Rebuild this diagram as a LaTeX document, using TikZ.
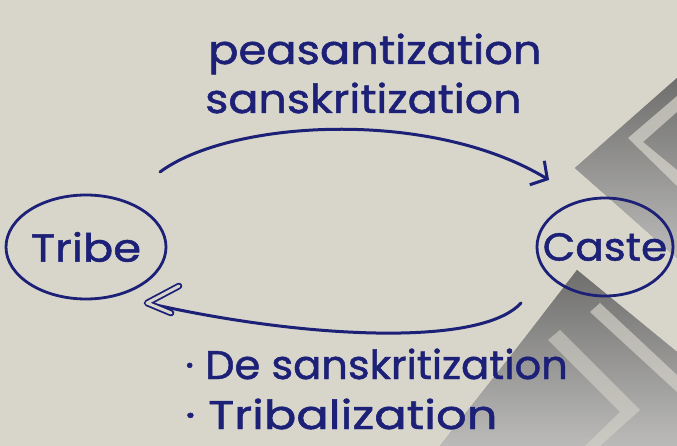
\documentclass[tikz,border=0pt]{standalone}
\usepackage{fontspec}
\setmainfont{Poppins}[FakeBold=1.2]
\usetikzlibrary{shapes.geometric,arrows.meta}
\definecolor{paper}{RGB}{216,214,203}
\definecolor{shade}{RGB}{165,163,156}
\definecolor{ink}{RGB}{28,32,118}
\tikzset{
  bubble/.style={ellipse, draw=ink, line width=2.8pt, inner sep=0pt, text=ink, font=\fontsize{39}{41}\selectfont},
  label/.style={text=ink, font=\fontsize{40}{44}\selectfont, inner sep=0pt, anchor=base west},
  link/.style={draw=ink, line width=3pt, line cap=round, line join=round}
}
\begin{document}
\begin{tikzpicture}[x=1pt,y=-1pt]
\fill[paper] (0,0) rectangle (677,446);
\useasboundingbox (0,0) rectangle (677,446);
% paper shadow bands
\fill[shade,opacity=0.6] (575,168) -- (677,78) -- (677,258) -- cycle;
\fill[paper,opacity=0.7] (628,138) -- (677,96) -- (677,112) -- (643,142) -- (677,170) -- (677,186) -- cycle;
\fill[shade,opacity=0.6] (577,270) -- (677,352) -- (677,446) -- (440,446) -- (527,335) -- cycle;
\fill[paper,opacity=0.65] (590,312) -- (600,303) -- (677,375) -- (677,392) -- cycle;
\fill[paper,opacity=0.55] (548,340) -- (560,330) -- (640,410) -- (600,446) -- (585,446) -- (620,412) -- cycle;
% nodes
\node[bubble, minimum width=160pt, minimum height=104pt] (tribe) at (86,247) {\makebox[0pt]{\scalebox{1.15}[1]{Tribe}}};
\node[bubble, minimum width=136pt, minimum height=98pt] (caste) at (605,247) {\makebox[0pt]{\scalebox{1.08}[1]{Caste}}};
% labels
\node[label, xscale=1.12] (l1) at (208,64) {peasantization};
\node[label, xscale=1.11] (l2) at (205,113) {sanskritization};
\node[label, xscale=1.04] (l3) at (185,379) {· De sanskritization};
\node[label, xscale=1.2] (l4) at (185,429) {· Tribalization};
% connector ends
\coordinate (a1) at (160,172);
\coordinate (a2) at (549,180);
\coordinate (b1) at (521,303);
\coordinate (b2) at (147,303);
\draw[link, -{Straight Barb[length=12pt,width=28pt]}] (a1) .. controls (230,120) and (430,108) .. (a2);
\draw[link] (b1) .. controls (480,348) and (300,338) .. (b2);
\draw[link, line width=1.8pt, double=paper, double distance=3pt] (179,286) -- (b2) -- (171,313);
\end{tikzpicture}
\end{document}
